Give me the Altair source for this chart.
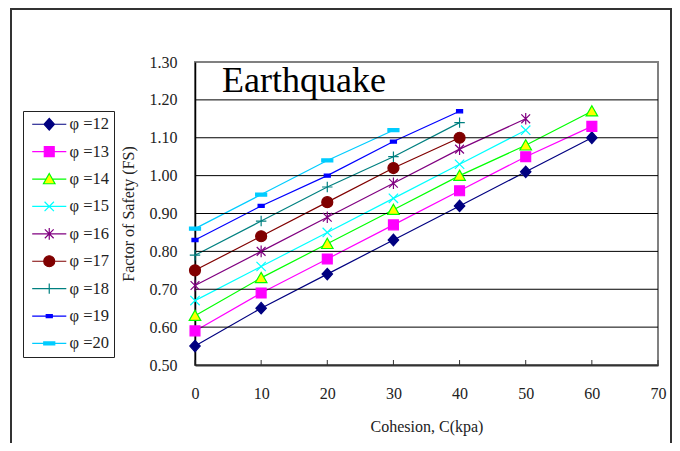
import altair as alt
import pandas as pd

# ---- data ----
cohesion = [0, 10, 20, 30, 40, 50, 60]
labels = ["\u03c6 =12", "\u03c6 =13", "\u03c6 =14", "\u03c6 =15", "\u03c6 =16",
          "\u03c6 =17", "\u03c6 =18", "\u03c6 =19", "\u03c6 =20"]
fs12 = [0.55, 0.65, 0.74, 0.83, 0.92, 1.01, 1.10]
fs13 = [0.59, 0.69, 0.78, 0.87, 0.96, 1.05, 1.13]
fs14 = [0.63, 0.73, 0.82, 0.91, 1.00, 1.08, 1.17]
fs15 = [0.67, 0.76, 0.85, 0.94, 1.03, 1.12]
fs16 = [0.71, 0.80, 0.89, 0.98, 1.07, 1.15]
fs17 = [0.75, 0.84, 0.93, 1.02, 1.10]
fs18 = [0.79, 0.88, 0.97, 1.05, 1.14]
fs19 = [0.83, 0.92, 1.00, 1.09, 1.17]
fs20 = [0.86, 0.95, 1.04, 1.12]
series = [fs12, fs13, fs14, fs15, fs16, fs17, fs18, fs19, fs20]

x_ticks = [0, 10, 20, 30, 40, 50, 60, 70]
y_ticks = [0.5, 0.6, 0.7, 0.8, 0.9, 1.0, 1.1, 1.2, 1.3]
grid_vals = [0.6, 0.7, 0.8, 0.9, 1.0, 1.1, 1.2]

# ---- styles ----
line_colors = ["#000080", "#FF00FF", "#00FF00", "#00FFFF", "#800080",
               "#800000", "#008080", "#0000FF", "#00CCFF"]
fill_colors = ["#000080", "#FF00FF", "#FFFF00", "transparent", "transparent",
               "#800000", "transparent", "#0000FF", "#00CCFF"]
stroke_colors = ["#000080", "#FF00FF", "#00FF00", "#00FFFF", "#800080",
                 "#800000", "#008080", "#0000FF", "#00CCFF"]
marker_paths = [
    "M0,-1.05L0.95,0L0,1.05L-0.95,0Z",
    "M-0.9,-0.9H0.9V0.9H-0.9Z",
    "M0,-1L1.05,0.85H-1.05Z",
    "M-0.85,-0.85L0.85,0.85M-0.85,0.85L0.85,-0.85",
    "M-0.8,-0.8L0.8,0.8M-0.8,0.8L0.8,-0.8M0,-1.05V1.05",
    "M1,0A1,1,0,1,1,-1,0A1,1,0,1,1,1,0Z",
    "M-0.95,0H0.95M0,-0.95V0.95",
    "M-0.55,-0.28H0.55V0.28H-0.55Z",
    "M-1,-0.28H1V0.28H-1Z",
]
gaps = [0.95, 0.9, 0.57, 0, 0, 1, 0, 0, 0]
legend_paths = []
for p, g in zip(marker_paths, gaps):
    if g > 0:
        legend_paths.append(f"M-3.1,0H{-g}M{g},0H3.1" + p)
    else:
        legend_paths.append("M-3.1,0H3.1" + p)

rows = []
for lab, vals in zip(labels, series):
    for c, v in zip(cohesion, vals):
        rows.append({"C": c, "FS": v, "phi": lab})
df = pd.DataFrame(rows)

W, H = 463, 303
SERIF = "Liberation Serif"

x_axis = alt.Axis(values=x_ticks, grid=False, ticks=False, title="Cohesion, C(kpa)",
                  labelFont=SERIF, labelFontSize=16, labelColor="#222", labelFlush=False,
                  labelPadding=20, titleFont=SERIF, titleFontSize=16,
                  titleFontWeight="normal", titleColor="#222", titlePadding=17,
                  domainColor="#333", domainWidth=2)
y_axis = alt.Axis(values=y_ticks, format=".2f", grid=False, ticks=False,
                  title="Factor of Safety (FS)", labelFont=SERIF, labelFontSize=16,
                  labelColor="#222", labelPadding=18, labelFlush=False, titleFont=SERIF,
                  titleFontSize=16, titleFontWeight="normal", titleColor="#222",
                  titlePadding=13, domainColor="#000", domainWidth=1.5)
x_scale = alt.Scale(domain=[0, 70], nice=False)
y_scale = alt.Scale(domain=[0.5, 1.3], nice=False, zero=False)


def xe():
    return alt.X("C:Q", scale=x_scale, axis=x_axis)


def ye():
    return alt.Y("FS:Q", scale=y_scale, axis=y_axis)


grid = alt.Chart(pd.DataFrame({"FS": grid_vals})).mark_rule(color="#000", strokeWidth=1).encode(
    y=ye())

xt = alt.Chart(pd.DataFrame({"C": x_ticks})).mark_rule(color="#333", strokeWidth=1).encode(
    x=xe(), y=alt.value(H), y2=alt.value(H - 5))

lines = alt.Chart(df).mark_line(strokeWidth=1.2).encode(
    x=xe(), y=ye(),
    color=alt.Color("phi:N", scale=alt.Scale(domain=labels, range=line_colors), legend=None),
    order="C:Q")

points = alt.Chart(df).mark_point(size=121, opacity=1, strokeWidth=1.2).encode(
    x=xe(), y=ye(),
    shape=alt.Shape("phi:N", scale=alt.Scale(domain=labels, range=marker_paths), legend=None),
    fill=alt.Fill("phi:N", scale=alt.Scale(domain=labels, range=fill_colors), legend=None),
    stroke=alt.Stroke("phi:N", scale=alt.Scale(domain=labels, range=stroke_colors), legend=None))

leg = alt.Legend(title=None, orient="none", legendX=-172, legendY=49, strokeColor="#222",
                 fillColor="white", padding=5, symbolOffset=13, labelOffset=12, rowPadding=10.4,
                 labelFont=SERIF, labelFontSize=16.5, labelColor="#222", symbolStrokeWidth=1.2,
                 symbolSize=121, symbolOpacity=1)
legend_layer = alt.Chart(df).transform_filter("false").mark_point(size=121, opacity=1, strokeWidth=1.2).encode(
    shape=alt.Shape("phi:N", scale=alt.Scale(domain=labels, range=legend_paths), legend=leg),
    fill=alt.Fill("phi:N", scale=alt.Scale(domain=labels, range=fill_colors), legend=leg),
    stroke=alt.Stroke("phi:N", scale=alt.Scale(domain=labels, range=stroke_colors), legend=leg))

title = alt.Chart(alt.Data(values=[{}])).mark_text(
    text="Earthquake", font=SERIF, fontSize=36, align="left", baseline="alphabetic",
    color="#000").encode(x=alt.value(27), y=alt.value(30))

frame = alt.Chart(alt.Data(values=[{}])).mark_rect(
    fill="transparent", stroke="#333", strokeWidth=2).encode(
    x=alt.value(-184), x2=alt.value(W + 13), y=alt.value(-53), y2=alt.value(H + 120))

chart = alt.layer(frame, lines, grid, xt, points, legend_layer, title).resolve_scale(
    shape="independent", fill="independent", stroke="independent", color="independent"
).properties(
    width=W, height=H,
    autosize=alt.AutoSizeParams(type="none"),
    padding={"left": 187, "top": 54, "right": 14, "bottom": 78},
    background="white",
).configure_view(stroke="#808080", strokeWidth=2)

chart.save("out.html", embed_options={"renderer": "svg", "actions": False})
